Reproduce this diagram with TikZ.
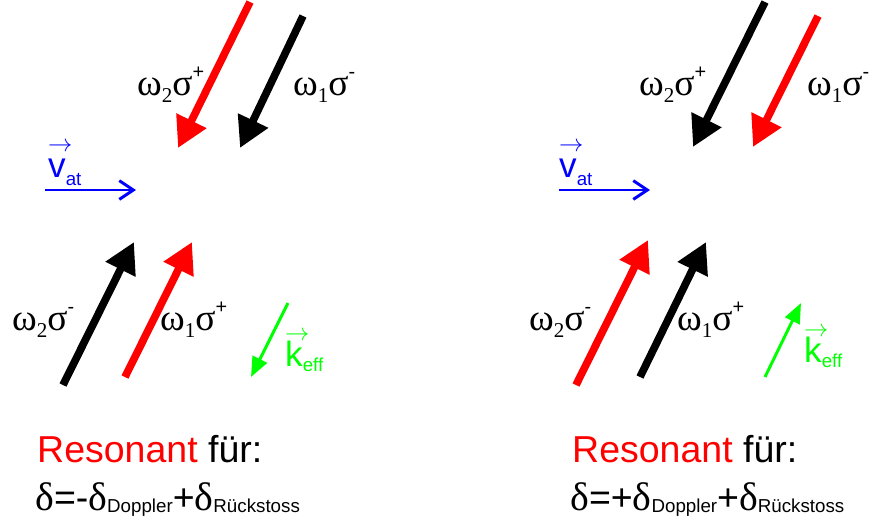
\documentclass[tikz,border=0pt]{standalone}
\usepackage{fontspec}
\setmainfont{Liberation Sans}
\newfontfamily\grfont{Liberation Serif}
\usetikzlibrary{arrows.meta}
\definecolor{colorRed}{HTML}{FF0000}
\definecolor{colorBlue}{HTML}{0000FF}
\definecolor{colorGreen}{HTML}{00FF00}
\def\colorRed{colorRed}
\def\colorBlue{colorBlue}
\def\colorGreen{colorGreen}
\newcommand{\lowered}[2]{\raisebox{-#1}{\fontsize{16}{16}\selectfont #2}}
\newcommand{\raised}[2]{\raisebox{#1}{\fontsize{17}{17}\selectfont #2}}
\newcommand{\omsig}[2]{{\fontsize{32}{36}\grfont ω\raisebox{-6pt}{\fontsize{18}{18}\grfont #1}σ}\raised{14pt}{#2}}
\newcommand{\dlt}{{\fontsize{34}{38}\grfont δ}}
\newcommand{\vecbox}[1]{\makebox[0pt][l]{\raisebox{22pt}{\fontsize{22}{22}\selectfont$\rightarrow$}}#1}

\begin{document}
\begin{tikzpicture}[x=0.03cm, y=-0.03cm,
  beam/.style={line width=6.5pt, -{Triangle[length=26pt,width=27pt]}},
  vat/.style={line width=2.5pt, draw=\colorBlue, -{Straight Barb[length=12pt,width=16pt]}},
  keff/.style={line width=2.5pt, draw=\colorGreen, -{Triangle[length=17pt,width=13.5pt]}},
  lbl/.style={inner sep=0, anchor=base west},
  txt/.style={inner sep=0, anchor=base west, font=\fontsize{32}{38}\selectfont}]
\useasboundingbox (0,0) rectangle (869,524);

% Cote gauche : faisceaux
\coordinate (lTopRedA) at (250,2);   \coordinate (lTopRedB) at (178,148);
\coordinate (lTopBlkA) at (303,16);  \coordinate (lTopBlkB) at (240,148);
\coordinate (lBotBlkA) at (63,385);  \coordinate (lBotBlkB) at (134,242);
\coordinate (lBotRedA) at (125,377); \coordinate (lBotRedB) at (192,242);
\draw[beam, \colorRed] (lTopRedA) -- (lTopRedB);
\draw[beam, black] (lTopBlkA) -- (lTopBlkB);
\draw[beam, black] (lBotBlkA) -- (lBotBlkB);
\draw[beam, \colorRed] (lBotRedA) -- (lBotRedB);

% Cote gauche : vitesse et k_eff
\coordinate (lVatA) at (45,190);  \coordinate (lVatB) at (136,190);
\coordinate (lKeffA) at (288,303); \coordinate (lKeffB) at (251,377);
\draw[vat] (lVatA) -- (lVatB);
\draw[keff] (lKeffA) -- (lKeffB);

% Cote gauche : etiquettes
\node[lbl] (lTopRedLbl) at (137,95) {\omsig{2}{+}};
\node[lbl] (lTopBlkLbl) at (293,95) {\omsig{1}{-}};
\node[lbl] (lBotBlkLbl) at (12,330) {\omsig{2}{-}};
\node[lbl] (lBotRedLbl) at (160,330) {\omsig{1}{+}};
\node[lbl, text=\colorBlue, font=\fontsize{30}{34}\selectfont] (lVatLbl) at (48,177) {\vecbox{v}\lowered{7pt}{at}};
\node[lbl, text=\colorGreen, font=\fontsize{30}{34}\selectfont] (lKeffLbl) at (285,366) {\vecbox{k}\lowered{5pt}{eff}};
\node[txt] (lRes) at (37,462) {\textcolor{\colorRed}{Resonant} für:};
\node[txt] (lCond) at (35,510) {\dlt=-\dlt\lowered{2pt}{Doppler}+\dlt\lowered{2pt}{Rückstoss}};

% Cote droit : faisceaux
\coordinate (rTopBlkA) at (765,2);   \coordinate (rTopBlkB) at (693,147);
\coordinate (rTopRedA) at (818,16);  \coordinate (rTopRedB) at (753,147);
\coordinate (rBotRedA) at (576,385); \coordinate (rBotRedB) at (648,240);
\coordinate (rBotBlkA) at (640,377); \coordinate (rBotBlkB) at (706,242);
\draw[beam, black] (rTopBlkA) -- (rTopBlkB);
\draw[beam, \colorRed] (rTopRedA) -- (rTopRedB);
\draw[beam, \colorRed] (rBotRedA) -- (rBotRedB);
\draw[beam, black] (rBotBlkA) -- (rBotBlkB);

% Cote droit : vitesse et k_eff
\coordinate (rVatA) at (559,190);  \coordinate (rVatB) at (650,190);
\coordinate (rKeffA) at (765,377); \coordinate (rKeffB) at (801,303);
\draw[vat] (rVatA) -- (rVatB);
\draw[keff] (rKeffA) -- (rKeffB);

% Cote droit : etiquettes
\node[lbl] (rTopBlkLbl) at (639,95) {\omsig{2}{+}};
\node[lbl] (rTopRedLbl) at (807,95) {\omsig{1}{-}};
\node[lbl] (rBotRedLbl) at (529,330) {\omsig{2}{-}};
\node[lbl] (rBotBlkLbl) at (677,330) {\omsig{1}{+}};
\node[lbl, text=\colorBlue, font=\fontsize{30}{34}\selectfont] (rVatLbl) at (559,177) {\vecbox{v}\lowered{7pt}{at}};
\node[lbl, text=\colorGreen, font=\fontsize{30}{34}\selectfont] (rKeffLbl) at (804,362) {\vecbox{k}\lowered{5pt}{eff}};
\node[txt] (rRes) at (572,462) {\textcolor{\colorRed}{Resonant} für:};
\node[txt] (rCond) at (570,510) {\dlt=+\dlt\lowered{2pt}{Doppler}+\dlt\lowered{2pt}{Rückstoss}};

\end{tikzpicture}
\end{document}
